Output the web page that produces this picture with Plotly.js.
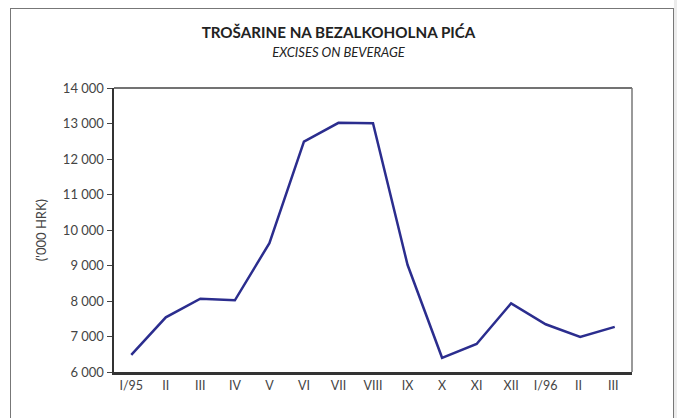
<!DOCTYPE html>
<html>
<head>
<meta charset="utf-8">
<script src="https://cdn.plot.ly/plotly-3.0.1.min.js"></script>
<style>
  html, body { margin: 0; padding: 0; background: #ffffff; }
  #wrap { position: relative; width: 677px; height: 418px; overflow: hidden; background: #ffffff; }
  #chart { position: absolute; left: 0; top: 0; width: 677px; height: 418px; }
  #frame { position: absolute; left: 10px; top: 8px; width: 662px; height: 420px;
           border-left: 1px solid #777; border-top: 1px solid #777; border-right: 1.5px solid #777;
           pointer-events: none; }
  #edge { position: absolute; left: 674px; top: 0; width: 3px; height: 418px; background: #ececec; }
</style>
</head>
<body>
<div id="wrap">
  <div id="chart"></div>
  <div id="frame"></div>
  <div id="edge"></div>
</div>
<script>
const categories = ["I/95","II","III","IV","V","VI","VII","VIII","IX","X","XI","XII","I/96","II ","III "];
const values = [6480, 7540, 8065, 8020, 9630, 12490, 13020, 13005, 9020, 6400, 6790, 7935, 7345, 6985, 7270];
const yTicks = [6000, 7000, 8000, 9000, 10000, 11000, 12000, 13000, 14000];

const trace = {
  x: categories,
  y: values,
  type: "scatter",
  mode: "lines",
  line: { color: "#2b2d8e", width: 2.5 },
  hoverinfo: "skip"
};

const layout = {
  width: 677,
  height: 418,
  margin: { l: 114, r: 45, t: 88, b: 46 },
  paper_bgcolor: "rgba(0,0,0,0)",
  plot_bgcolor: "#ffffff",
  separators: ", ",
  showlegend: false,
  font: { family: "Lato, 'Open Sans', sans-serif", color: "#444" },
  title: {
    text: "<b>TROŠARINE NA BEZALKOHOLNA PIĆA</b><br><span style='font-size:13px;font-weight:normal'><i>EXCISES ON BEVERAGE</i></span>",
    font: { family: "Lato, sans-serif", size: 15.2, color: "#222" },
    x: 0.5, xref: "container", xanchor: "center",
    y: 0.91, yanchor: "top"
  },
  xaxis: {
    type: "category",
    range: [-0.5, 14.5],
    showgrid: false,
    zeroline: false,
    showline: true,
    linecolor: "#333",
    linewidth: 2.5,
    ticks: "",
    tickfont: { size: 12.5, color: "#444" },
    fixedrange: true
  },
  yaxis: {
    range: [6000, 14000],
    tickvals: yTicks,
    tickformat: ",d",
    showgrid: false,
    zeroline: false,
    showline: true,
    linecolor: "#333",
    linewidth: 2.5,
    ticks: "outside",
    ticklen: 5,
    tickwidth: 1,
    tickcolor: "#444",
    tickfont: { size: 13, color: "#444" },
    title: { text: "('000 HRK)", font: { size: 13, color: "#444" }, standoff: 14 },
    fixedrange: true
  },
  shapes: [
    { type: "line", xref: "paper", yref: "paper", x0: 0, x1: 1, y0: 1, y1: 1, line: { color: "#444", width: 1.5 } },
    { type: "line", xref: "paper", yref: "paper", x0: 1, x1: 1, y0: 0, y1: 1, line: { color: "#777", width: 1.5 } }
  ]
};

Plotly.newPlot("chart", [trace], layout, { displayModeBar: false, staticPlot: true });
</script>
</body>
</html>
